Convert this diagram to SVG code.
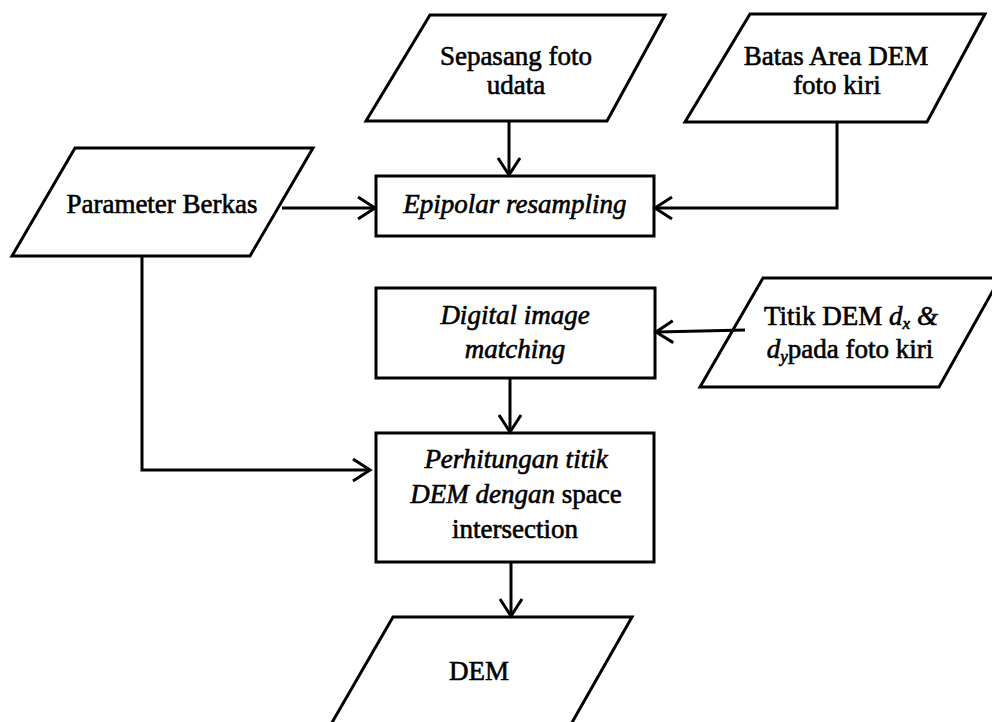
<svg xmlns="http://www.w3.org/2000/svg" width="992" height="722" viewBox="0 0 992 722">
<style>
.shape{fill:#fff;stroke:#000;stroke-width:3;stroke-linejoin:miter}
.conn{fill:none;stroke:#000;stroke-width:3}
text{font-family:"Liberation Serif","Times New Roman",serif;font-size:27px;fill:#000;stroke:#000;stroke-width:0.6;text-anchor:middle}
.it{font-style:italic}
.sub{font-size:17px;font-style:italic}
</style>
<defs>
<marker id="arr" markerUnits="userSpaceOnUse" markerWidth="22" markerHeight="26" refX="17" refY="11" orient="auto" overflow="visible">
<path d="M1,0 L18,11 L1,22" fill="none" stroke="#000" stroke-width="3"/>
</marker>
</defs>
<rect width="992" height="722" fill="#fff"/>

<g id="sepasang">
<polygon class="shape" points="430,15 665,15 607,121 366,121"/>
<text x="516" y="65">Sepasang foto</text>
<text x="516" y="94">udata</text>
</g>

<g id="batas">
<polygon class="shape" points="750,14 985,14 927,122 685,122"/>
<text x="836" y="65">Batas Area DEM</text>
<text x="837" y="94">foto kiri</text>
</g>

<g id="parameter">
<polygon class="shape" points="75,148 313,148 250,256 12,256"/>
<text x="162" y="213">Parameter Berkas</text>
</g>

<g id="epipolar">
<rect class="shape" x="376" y="176" width="278" height="60"/>
<text class="it" x="515" y="213">Epipolar resampling</text>
</g>

<g id="digital">
<rect class="shape" x="376" y="288" width="279" height="90"/>
<text class="it" x="515" y="324">Digital image</text>
<text class="it" x="515" y="358">matching</text>
</g>

<g id="titik">
<polygon class="shape" points="763,278 1000,278 939,387 700,387"/>
<text x="851" y="325">Titik DEM <tspan class="it">d</tspan><tspan class="sub" dy="4">x</tspan><tspan class="it" dy="-4"> &amp;</tspan></text>
<text x="850" y="358"><tspan class="it">d</tspan><tspan class="sub" dy="4">y</tspan><tspan dy="-4">pada foto kiri</tspan></text>
</g>

<g id="perhitungan">
<rect class="shape" x="376" y="433" width="278" height="129"/>
<text class="it" x="516" y="468">Perhitungan titik</text>
<text x="516" y="503"><tspan class="it">DEM dengan</tspan> space</text>
<text x="515" y="538">intersection</text>
</g>

<g id="dem">
<polygon class="shape" points="393,617 632,617 570,726 330,726"/>
<text x="479" y="680">DEM</text>
</g>

<g id="connectors">
<polyline class="conn" points="509,121 509,174" marker-end="url(#arr)"/>
<polyline class="conn" points="837,122 837,208 656,208" marker-end="url(#arr)"/>
<polyline class="conn" points="282,208 374,208" marker-end="url(#arr)"/>
<polyline class="conn" points="142,256 142,470 369,470" marker-end="url(#arr)"/>
<polyline class="conn" points="745,330 657,332" marker-end="url(#arr)"/>
<polyline class="conn" points="510,378 510,431" marker-end="url(#arr)"/>
<polyline class="conn" points="511,562 511,615" marker-end="url(#arr)"/>
</g>
</svg>
